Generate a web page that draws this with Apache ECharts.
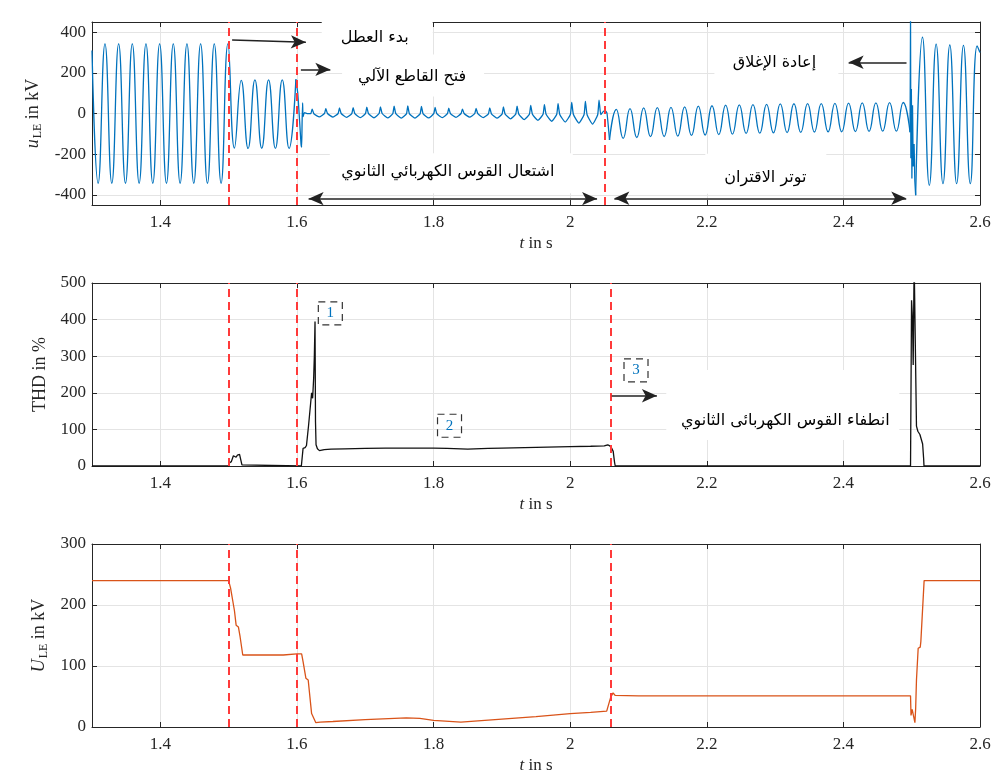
<!DOCTYPE html>
<html><head><meta charset="utf-8">
<script src="https://cdn.jsdelivr.net/npm/echarts@6/dist/echarts.min.js"></script>
<style>html,body{margin:0;padding:0;background:#fff}#c{width:1001px;height:778px}</style>
</head><body><div id="c"></div>
<script>
// ================= DATA =================
const xTicks = [1.4, 1.6, 1.8, 2, 2.2, 2.4, 2.6];
const uTicks = [-400, -200, 0, 200, 400];
const thdTicks = [0, 100, 200, 300, 400, 500];
const urmsTicks = [0, 100, 200, 300];

// event instants (red dashed lines) per panel
const eventsU = [1.5, 1.602, 2.054];
const eventsTHD = [1.501, 1.603, 2.057];
const eventsUrms = [1.5, 1.605, 2.057];

// --- u_LE waveform (kV), read as successive extrema (half period = 0.01 s) ---
const uStart = [[1.3, 310]];
const uPreStartT = 1.309;
const uPreExtrema = [-343, 342, -343, 342, -343, 342, -343, 342, -343, 342, -343, 342, -343, 342, -343, 342, -343, 342, -343, 342];
const uFaultStartT = 1.5085;
const uFaultExtrema = [-170, 163, -172, 165, -171, 165, -172, 165, -172, 168];
const uBreakerTransient = [[1.5985, 168], [1.6012, 100], [1.6038, -30], [1.6060, -150], [1.6069, -165], [1.6076, -40], [1.6083, 52], [1.6090, -15], [1.6110, 4], [1.6160, -1]];
// secondary arc: one sharp peak per cycle
const arcStartT = 1.6223;
const arcPeak   = [22, 24, 27, 29, 31, 33, 36, 37, 35, 30, 26, 22, 25, 28, 32, 36, 40, 44, 48, 54, 60, 66];
const arcTrough = [-17, -18, -19, -20, -21, -22, -23, -23, -22, -20, -19, -18, -20, -23, -26, -30, -34, -38, -42, -47, -52, -57];
const arcBase   = [-1, 0, 0, -1, -1, 0, -1, -2, -2, -1, -1, 0, -1, -2, -3, -3, -4, -4, -5, -5, -6, -6];
const uArcToCoupling = [[2.0480, 8], [2.0515, 14], [2.0540, 0], [2.0576, -130]];
// coupling voltage after arc extinction
const uCouplingStartT = 2.0576;
const uCouplingExtrema = [-130, 20, -122, 24, -118, 28, -114, 29, -113, 30, -111, 33, -108, 36, -106, 38, -104, 41, -101, 42, -98, 44, -97, 45, -95, 47, -94, 48, -93, 49, -91, 49, -90, 50, -90, 51, -89, 52, -88, 52, -87, 53, -87, 54, -92];
const uRecloseTransient = [[2.4976, -92], [2.4983, 455], [2.4988, -220], [2.4995, 120], [2.5003, -320], [2.5012, 40], [2.5022, -260], [2.5035, -150], [2.5046, -330], [2.5058, -402]];
const uPostStartT = 2.5058;
const uPostExtrema = [-402, 375, -353, 341, -345, 337, -345, 335, -345, 333];
const uEnd = [[2.6, 300]];

// --- THD (%) ---
const thdPoints = [[1.3, 0], [1.5, 0], [1.501, 8], [1.504, 12], [1.507, 28], [1.509, 30], [1.511, 24], [1.513, 30], [1.516, 32], [1.518, 33], [1.5195, 3], [1.521, 0],
  [1.6065, 0], [1.609, 48], [1.612, 50], [1.614, 56], [1.617, 110], [1.620, 170], [1.6215, 200], [1.623, 185], [1.6245, 240], [1.6255, 300], [1.6265, 395], [1.6272, 120], [1.628, 58], [1.630, 47], [1.633, 42],
  [1.64, 45], [1.65, 46], [1.67, 47], [1.70, 48], [1.73, 49], [1.76, 49], [1.80, 49], [1.82, 48], [1.85, 46], [1.88, 48], [1.90, 49], [1.95, 51], [2.0, 53], [2.03, 54], [2.05, 55], [2.055, 58], [2.058, 55], [2.061, 48], [2.063, 40], [2.065, 10], [2.066, 0],
  [2.4983, 0], [2.4998, 453], [2.5012, 400], [2.5022, 276], [2.5036, 560], [2.5055, 560], [2.507, 109], [2.509, 95], [2.512, 86], [2.514, 82], [2.516, 60], [2.5175, 20], [2.518, 0], [2.6, 0]];

// --- U_LE rms (kV) ---
const urmsPoints = [[1.3, 240], [1.5, 240], [1.503, 227], [1.5055, 224], [1.5085, 191], [1.511, 167], [1.5143, 164], [1.5168, 148], [1.5207, 118], [1.55, 118], [1.58, 118], [1.60, 120],
  [1.6069, 120], [1.609, 107], [1.6131, 80], [1.6165, 77], [1.6215, 22], [1.6238, 19], [1.6277, 7], [1.634, 8], [1.6526, 9], [1.70, 12], [1.76, 15], [1.78, 14], [1.80, 11], [1.84, 8], [1.90, 13], [1.95, 17], [2.0, 22], [2.03, 24], [2.0535, 26],
  [2.0559, 27], [2.0594, 49], [2.0628, 56], [2.0657, 52], [2.1, 51], [2.2, 51], [2.3, 51], [2.4, 51], [2.4983, 51], [2.4990, 19], [2.5007, 29], [2.5047, 7], [2.5058, 30], [2.507, 77], [2.5095, 129], [2.5125, 131], [2.5134, 140], [2.5182, 240], [2.6, 240]];

// ================= BUILD =================
function fromExtrema(startT, vals, step) { return vals.map((v, i) => [Math.round((startT + i * step) * 1e5) / 1e5, v]); }
function arcPoints() {
  const pts = [];
  for (let k = 0; k < arcPeak.length; k++) {
    const tp = arcStartT + k * 0.02;
    pts.push([tp - 0.002, arcBase[k]], [tp, arcPeak[k]], [tp + 0.0025, arcBase[k]]);
    if (k < arcPeak.length - 1) pts.push([tp + 0.0105, arcTrough[k]]);
  }
  return pts;
}

const SERIF = '"Liberation Serif","Times New Roman",serif';
const AR = '"DejaVu Sans","Noto Sans",sans-serif';
const AXC = '#262626';
const GRIDC = '#e4e4e4';
const BLUE = '#0072BD', ORANGE = '#D95319', RED = '#ff3a3a';

const grids = [
  { left: 92, right: 21, top: 22, height: 183 },
  { left: 92, right: 21, top: 283, height: 183 },
  { left: 92, right: 21, top: 544, height: 183 }
];

function xAxesFor(g) {
  return [
    { type: 'value', gridIndex: g, min: 1.3, max: 2.6, position: 'bottom',
      axisLine: { show: true, onZero: false, lineStyle: { color: AXC, width: 1 } },
      axisTick: { show: true, inside: true, length: 5, customValues: xTicks, lineStyle: { color: AXC } },
      axisLabel: { customValues: xTicks, fontFamily: SERIF, fontSize: 17, color: AXC, margin: 9 },
      splitLine: { show: true, lineStyle: { color: GRIDC, width: 1 } },
      name: '{i|t} in s', nameLocation: 'middle', nameGap: 30,
      nameTextStyle: { fontFamily: SERIF, fontSize: 17, color: AXC, rich: { i: { fontFamily: SERIF, fontSize: 17, fontStyle: 'italic', color: AXC } } } },
    { type: 'value', gridIndex: g, min: 1.3, max: 2.6, position: 'top',
      axisLine: { show: true, onZero: false, lineStyle: { color: AXC, width: 1 } },
      axisTick: { show: true, inside: true, length: 5, customValues: xTicks, lineStyle: { color: AXC } },
      axisLabel: { show: false }, splitLine: { show: false } }
  ];
}
function yAxesFor(g, min, max, ticks, name, rich, gap) {
  return [
    { type: 'value', gridIndex: g, min: min, max: max, position: 'left',
      axisLine: { show: true, onZero: false, lineStyle: { color: AXC, width: 1 } },
      axisTick: { show: true, inside: true, length: 5, customValues: ticks, lineStyle: { color: AXC } },
      axisLabel: { customValues: ticks, fontFamily: SERIF, fontSize: 17, color: AXC, margin: 6 },
      splitLine: { show: true, lineStyle: { color: GRIDC, width: 1 } },
      name: name, nameLocation: 'middle', nameRotate: 90, nameGap: gap,
      nameTextStyle: { fontFamily: SERIF, fontSize: 18, color: AXC, rich: rich } },
    { type: 'value', gridIndex: g, min: min, max: max, position: 'right',
      axisLine: { show: true, onZero: false, lineStyle: { color: AXC, width: 1 } },
      axisTick: { show: true, inside: true, length: 5, customValues: ticks, lineStyle: { color: AXC } },
      axisLabel: { show: false }, splitLine: { show: false } }
  ];
}
const subRich = {
  i: { fontFamily: SERIF, fontSize: 18, fontStyle: 'italic', color: AXC },
  s: { fontFamily: SERIF, fontSize: 12, color: AXC, padding: [9, 0, 0, 1] },
  n: { fontFamily: SERIF, fontSize: 18, color: AXC }
};

function vlines(events) { return events.map(e => ({ xAxis: e, symbol: 'none', lineStyle: { color: RED, width: 2, type: [8, 5] } })); }
function arrow(a, b, both) {
  const ls = { color: '#222', width: 1.5, type: 'solid' };
  return [{ coord: a, symbol: both ? 'arrow' : 'none', symbolSize: [10, 15], lineStyle: ls },
          { coord: b, symbol: 'arrow', symbolSize: [10, 15], lineStyle: ls }];
}
function mk(data) {
  return { silent: true, animation: false, symbol: ['none', 'none'], label: { show: false }, emphasis: { disabled: true }, data: data };
}

const lineBase = (g, color, data, smooth) => ({
  type: 'line', xAxisIndex: 2 * g, yAxisIndex: 2 * g, data: data, showSymbol: false, symbol: 'none',
  smooth: smooth, lineStyle: { color: color, width: 1.3 }, itemStyle: { color: color }, clip: true, animation: false, z: 3
});

const s1 = lineBase(0, BLUE, [...uStart, ...fromExtrema(uPreStartT, uPreExtrema, 0.01), ...fromExtrema(uFaultStartT, uFaultExtrema, 0.01)], true);
s1.markLine = mk([
  ...vlines(eventsU),
  arrow([1.5051, 361], [1.6131, 350], false),
  arrow([1.6058, 217], [1.6489, 217], false),
  arrow([1.6171, -419], [2.0394, -419], true),
  arrow([2.0647, -417], [2.4920, -417], true),
  arrow([2.4924, 252], [2.4077, 252], false)
]);
const s2 = lineBase(0, BLUE, [...uBreakerTransient, ...arcPoints(), ...uArcToCoupling], 0.15);
const s3 = lineBase(0, BLUE, fromExtrema(uCouplingStartT, uCouplingExtrema, 0.01), true);
const s4 = lineBase(0, BLUE, uRecloseTransient, false);
const s5 = lineBase(0, BLUE, [...fromExtrema(uPostStartT, uPostExtrema, 0.01), ...uEnd], true);
const s6 = lineBase(1, '#111', thdPoints, false);
s6.markLine = mk([...vlines(eventsTHD), arrow([2.0609, 192], [2.1270, 192], false)]);
const s7 = lineBase(2, ORANGE, urmsPoints, false);
s7.markLine = mk(vlines(eventsUrms));

const chart = echarts.init(document.getElementById('c'), null, { renderer: 'canvas' });
chart.setOption({
  animation: false,
  backgroundColor: '#fff',
  grid: grids,
  xAxis: [...xAxesFor(0), ...xAxesFor(1), ...xAxesFor(2)],
  yAxis: [
    ...yAxesFor(0, -450, 450, uTicks, '{i|u}{s|LE}{n| in kV}', subRich, 43),
    ...yAxesFor(1, 0, 500, thdTicks, 'THD in %', {}, 32),
    ...yAxesFor(2, 0, 300, urmsTicks, '{i|U}{s|LE}{n| in kV}', subRich, 38)
  ],
  series: [s1, s2, s3, s4, s5, s6, s7]
});

// ================= ANNOTATIONS (placed in data coordinates) =================
const textNotes = [
  { series: 0, at: [1.7139, 374], text: 'بدء العطل', box: [-53, -27, 111, 44] },
  { series: 0, at: [1.7686, 182], text: 'فتح القاطع الآلي', box: [-70, -22, 142, 42] },
  { series: 0, at: [1.8209, -289], text: 'اشتعال القوس الكهربائي الثانوي', box: [-118, -19, 243, 40] },
  { series: 0, at: [2.2857, -316], text: 'توتر الاقتران', box: [-60, -24, 121, 40] },
  { series: 0, at: [2.2990, 247], text: 'إعادة الإغلاق', box: [-60, -18, 124, 36] },
  { series: 5, at: [2.3149, 123], text: 'انطفاء القوس الكهربائى الثانوي', box: [-119, -51, 233, 70] }
];
const boxNotes = [
  { series: 5, at: [1.6489, 417], label: '1' },
  { series: 5, at: [1.8234, 110], label: '2' },
  { series: 5, at: [2.0964, 261], label: '3' }
];
const graphics = [];
textNotes.forEach(n => {
  const p = chart.convertToPixel({ seriesIndex: n.series }, n.at);
  graphics.push({ type: 'rect', z: 50, shape: { x: p[0] + n.box[0], y: p[1] + n.box[1], width: n.box[2], height: n.box[3] }, style: { fill: '#fff' }, silent: true });
  graphics.push({ type: 'text', z: 51, x: p[0], y: p[1], style: { text: n.text, font: '16px ' + AR, fill: '#000', align: 'center', verticalAlign: 'middle' }, silent: true });
});
boxNotes.forEach(n => {
  const p = chart.convertToPixel({ seriesIndex: n.series }, n.at);
  graphics.push({ type: 'rect', z: 50, shape: { x: p[0] - 12, y: p[1] - 11.5, width: 24, height: 23 }, style: { fill: 'none', stroke: '#333', lineWidth: 1.2, lineDash: [7, 5] }, silent: true });
  graphics.push({ type: 'text', z: 51, x: p[0], y: p[1], style: { text: n.label, font: '15px ' + SERIF, fill: BLUE, align: 'center', verticalAlign: 'middle' }, silent: true });
});
chart.setOption({ graphic: graphics });
</script></body></html>
